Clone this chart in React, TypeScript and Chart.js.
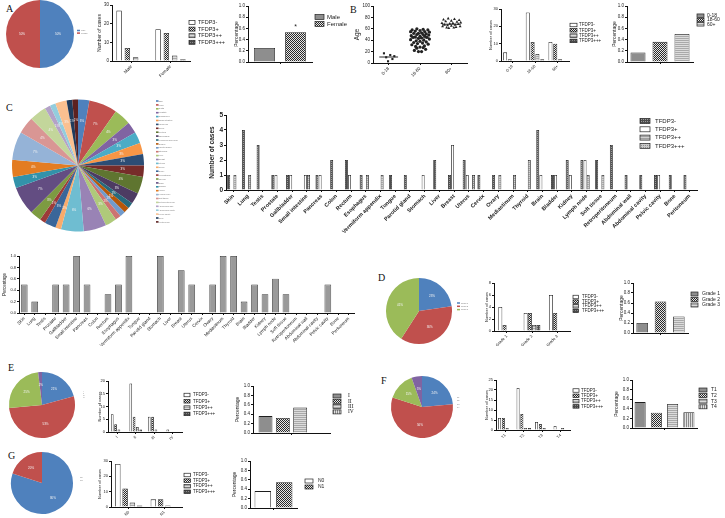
import React, { useEffect, useRef } from 'react';
import { Chart, registerables } from 'chart.js';
Chart.register(...registerables);

const FONT = "'Liberation Sans', Arial, sans-serif";
const SERIF = "'Liberation Serif', 'Times New Roman', serif";

// ---------------- DATA ----------------
const tfdpSeries = ['TFDP3-', 'TFDP3+', 'TFDP3++', 'TFDP3+++'];

// A: sex
const sexLabels = ['Male', 'Female'];
const sexNeg = [27, 17];
const sexPos1 = [7, 15];
const sexPos2 = [2, 3];
const sexPos3 = [0, 1];
const sexPie = [36, 36];
const sexPercent = [0.25, 0.53];

// B: age
const ageLabels = ['0-18', '18-60', '60+'];
const ageNeg = [5, 28, 11];
const agePos1 = [1, 11, 10];
const agePos2 = [0, 4, 1];
const agePos3 = [0, 1, 0];
const agePercent = [0.17, 0.36, 0.5];
const ageYoung = [17, 14, 12, 10, 7, 3];
const ageYoungJitter = [-0.15, 0.05, 0.18, -0.08, 0.12, -0.02];
const ageMid = [60, 59, 58, 58, 57, 56, 55, 55, 54, 53, 52, 52, 51, 50, 50, 49, 48, 47, 47, 46, 45, 45, 44, 43, 42, 41, 40, 39, 38, 37, 36, 35, 34, 33, 32, 30, 29, 28, 27, 26, 24, 22, 20, 20];
const ageMidJitter = [-0.1, 0.1, -0.25, 0.25, 0, -0.15, 0.15, -0.3, 0.3, 0.05, -0.05, -0.2, 0.2, 0.1, -0.1, 0.28, -0.28, 0, 0.15, -0.15, 0.22, -0.22, 0.05, -0.05, 0.3, -0.3, 0.12, -0.12, 0, 0.2, -0.2, 0.08, -0.08, 0.26, -0.26, 0.14, -0.14, 0, 0.1, -0.1, 0.18, -0.18, 0.05, -0.05];
const ageOld = [78, 77, 76, 75, 74, 73, 72, 71, 70, 70, 69, 68, 67, 67, 66, 65, 64, 64, 63, 62, 62, 61];
const ageOldJitter = [-0.1, 0.1, -0.25, 0.25, 0, -0.18, 0.18, 0.3, -0.3, 0.05, -0.05, 0.22, -0.22, 0.12, -0.12, 0, 0.28, -0.28, 0.15, -0.15, 0.08, -0.08];
const ageMeans = [10.5, 44, 68];

// C: organs
const organLabels = ['Skin', 'Lung', 'Testis', 'Prostate', 'Gallbladder', 'Small intestine', 'Pancreas', 'Colon', 'Rectum', 'Esophagus', 'Vermiform appendix', 'Tongue', 'Parotid gland', 'Stomach', 'Liver', 'Breast', 'Uterus', 'Cervix', 'Ovary', 'Mediastinum', 'Thyroid', 'Brain', 'Bladder', 'Kidney', 'Lymph node', 'Soft tissue', 'Retroperitoneum', 'Abdominal wall', 'Abdominal cavity', 'Pelvic cavity', 'Bone', 'Peritoneum'];
const organNeg = [1, 4, 3, 1, 1, 0, 1, 2, 2, 1, 0, 1, 1, 0, 2, 1, 2, 1, 1, 0, 0, 4, 1, 2, 2, 2, 3, 1, 1, 1, 1, 1];
const organPos1 = [0, 0, 0, 1, 1, 1, 1, 0, 1, 0, 0, 0, 0, 1, 0, 3, 1, 0, 0, 0, 0, 1, 1, 1, 2, 0, 0, 0, 0, 1, 0, 0];
const organPos2 = [1, 1, 0, 0, 0, 1, 0, 0, 0, 1, 1, 0, 0, 0, 0, 0, 0, 0, 1, 1, 2, 0, 0, 0, 1, 1, 0, 0, 0, 0, 0, 0];
const organPos3 = [0, 0, 0, 0, 0, 0, 0, 0, 0, 0, 0, 0, 0, 0, 0, 0, 1, 0, 0, 0, 0, 0, 0, 0, 0, 0, 0, 0, 0, 0, 0, 0];
const organPie = [2, 5, 3, 2, 2, 2, 2, 2, 3, 2, 1, 1, 1, 1, 2, 4, 4, 1, 2, 1, 2, 5, 2, 3, 5, 3, 3, 1, 1, 2, 1, 1];
const organPercent = [0.5, 0.2, 0, 0.5, 0.5, 1, 0.5, 0, 0.33, 0.5, 1, 0, 0, 1, 0, 0.75, 0.5, 0, 0.5, 1, 1, 0.2, 0.5, 0.33, 0.6, 0.33, 0, 0, 0, 0.5, 0, 0];

// D: grade
const gradeLabels = ['Grade 1', 'Grade 2', 'Grade 3'];
const gradeNeg = [4, 3, 6];
const gradePos1 = [1, 3, 3];
const gradePos2 = [0, 1, 0];
const gradePos3 = [0, 1, 0];
const gradePie = [5, 8, 9];
const gradePercent = [0.2, 0.63, 0.33];

// E: stage
const stageLabels = ['I', 'II', 'III', 'IV'];
const stageNeg = [7, 19, 6, 1];
const stagePos1 = [3, 6, 6, 0];
const stagePos2 = [1, 2, 1, 0];
const stagePos3 = [0, 1, 0, 0];
const stagePie = [11, 28, 13, 1];
const stagePercent = [0.36, 0.32, 0.54, 0];

// F: T
const tLabels = ['T1', 'T2', 'T3', 'T4'];
const tNeg = [6, 21, 4, 2];
const tPos1 = [6, 8, 3, 0];
const tPos2 = [1, 1, 1, 1];
const tPos3 = [0, 1, 0, 0];
const tPie = [13, 31, 8, 3];
const tPercent = [0.54, 0.32, 0.5, 0.33];

// G: N
const nLabels = ['N0', 'N1'];
const nNeg = [28, 5];
const nPos1 = [12, 5];
const nPos2 = [3, 1];
const nPos3 = [1, 0];
const nPie = [44, 11];
const nPercent = [0.36, 0.55];

const basePieColors = ['#4F81BD', '#C0504D', '#9BBB59', '#8064A2'];
const organPieColors = ['#4F81BD', '#C0504D', '#9BBB59', '#8064A2', '#4BACC6', '#F79646', '#2C4D75', '#772C2A', '#5F7530', '#4D3B62', '#276A7C', '#B65708', '#729ACA', '#CD7371', '#AFC97A', '#9983B5', '#6FBDD1', '#F9AB6B', '#3A6699', '#9C3B39', '#7D9B42', '#634D82', '#3292AA', '#E37C22', '#95B3D7', '#D99694', '#C3D69B', '#B3A2C7', '#93CDDD', '#FAC090', '#1F3B5C', '#5C2120'];

// ---------------- FILLS ----------------
function makeFill(kind: string): any {
  if (kind === 'white') return '#ffffff';
  if (kind === 'gray') return '#8e8e8e';
  if (kind === 'midgray') return '#9a9a9a';
  const c = document.createElement('canvas');
  const ctx = c.getContext('2d')!;
  const px = (col: string, x: number, y: number, w = 1, h = 1) => { ctx.fillStyle = col; ctx.fillRect(x, y, w, h); };
  if (kind === 'check') {
    c.width = 2; c.height = 2;
    px('#e6e6e6', 0, 0, 2, 2); px('#2a2a2a', 0, 0); px('#2a2a2a', 1, 1);
  } else if (kind === 'light') {
    c.width = 1; c.height = 2;
    px('#dcdcdc', 0, 0, 1, 2); px('#a9a9a9', 0, 0);
  } else if (kind === 'dark') {
    c.width = 2; c.height = 2;
    px('#4a4a4a', 0, 0, 2, 2); px('#8a8a8a', 0, 0);
  } else if (kind === 'vstripe') {
    c.width = 2; c.height = 1;
    px('#e2e2e2', 0, 0, 2, 1); px('#8a8a8a', 0, 0);
  } else if (kind === 'darkdots') {
    c.width = 2; c.height = 2;
    px('#4e4e4e', 0, 0, 2, 2); px('#9c9c9c', 0, 0);
  } else if (kind === 'grayline') {
    c.width = 1; c.height = 2;
    px('#a0a0a0', 0, 0, 1, 2); px('#d0d0d0', 0, 0);
  } else if (kind === 'lightdots') {
    c.width = 2; c.height = 2;
    px('#c9c9c9', 0, 0, 2, 2); px('#8f8f8f', 0, 0);
  } else {
    c.width = 1; c.height = 1; px('#999', 0, 0);
  }
  return ctx.createPattern(c, 'repeat');
}

type Box = [number, number, number, number];
type LegendSpec = { x: number; y: number; gap: number; bw: number; bh: number; size: number; tx: number; family?: string; color?: string; stroke?: boolean; weight?: string };

function legendPlugin(items: { label: string; fill: any }[], L: LegendSpec, ox: number, oy: number) {
  return {
    id: 'boxLegend',
    afterDraw(chart: any) {
      const ctx = chart.ctx;
      ctx.save();
      items.forEach((it, i) => {
        const cy = L.y - oy + i * L.gap;
        const x = L.x - ox;
        if (L.bw > 0) {
          ctx.fillStyle = it.fill;
          ctx.fillRect(x, cy - L.bh / 2, L.bw, L.bh);
          if (L.stroke !== false) {
            ctx.strokeStyle = '#222';
            ctx.lineWidth = 0.7;
            ctx.strokeRect(x, cy - L.bh / 2, L.bw, L.bh);
          }
        }
        ctx.fillStyle = L.color || '#222';
        ctx.font = `${L.weight || 'normal'} ${L.size}px ${L.family || FONT}`;
        ctx.textBaseline = 'middle';
        ctx.textAlign = 'left';
        ctx.fillText(it.label, L.tx - ox, cy);
      });
      ctx.restore();
    },
  };
}

function axisCommon(size: number, bold: boolean) {
  return {
    grid: { display: true, drawOnChartArea: false, drawTicks: true, tickLength: 2, offset: false, color: '#111', lineWidth: 1 },
    border: { display: true, color: '#111', width: 1 },
    font: { size, family: FONT, weight: bold ? 'bold' : 'normal' },
  };
}

interface DS { label: string; data: number[]; fill: string }
interface BarProps {
  box: Box;
  plot: [number, number, number, number];
  titleX: number;
  yTitle: string;
  titleSize: number;
  titleBold?: boolean;
  labels: string[];
  datasets: DS[];
  yMax: number;
  yStep: number;
  decimals?: number;
  tickSize: number;
  xTickSize?: number;
  bold?: boolean;
  xBold?: boolean;
  cat: number;
  bar: number;
  legend?: LegendSpec;
  star?: { ds: number; idx: number; text: string };
  border?: string;
}

function BarPanel(p: BarProps) {
  const ref = useRef<HTMLCanvasElement>(null);
  useEffect(() => {
    const [bx, by, bw, bh] = p.box;
    const [pl, pt, pr, pb] = p.plot;
    const lh = p.titleSize * 1.2;
    const padLeft = p.titleX - bx - lh / 2;
    const yWidth = pl - bx - padLeft;
    const padRight = bx + bw - pr;
    const padTop = pt - by;
    const xHeight = by + bh - pb;
    const fills = p.datasets.map((d) => makeFill(d.fill));
    const yc = axisCommon(p.tickSize, !!p.bold);
    const xc = axisCommon(p.xTickSize || p.tickSize, !!p.xBold);
    const plugins: any[] = [];
    if (p.legend) plugins.push(legendPlugin(p.datasets.map((d, i) => ({ label: d.label, fill: fills[i] })), p.legend, bx, by));
    if (p.star) {
      const st = p.star;
      plugins.push({
        id: 'star',
        afterDatasetsDraw(chart: any) {
          const el = chart.getDatasetMeta(st.ds).data[st.idx];
          const ctx = chart.ctx;
          ctx.save();
          ctx.fillStyle = '#222';
          ctx.font = `7px ${FONT}`;
          ctx.textAlign = 'center';
          ctx.textBaseline = 'bottom';
          ctx.fillText(st.text, el.x, el.y - 2);
          ctx.restore();
        },
      });
    }
    const chart = new Chart(ref.current!, {
      type: 'bar',
      data: {
        labels: p.labels,
        datasets: p.datasets.map((d, i) => ({
          label: d.label,
          data: d.data,
          backgroundColor: fills[i],
          borderColor: p.border || '#1e1e1e',
          borderWidth: 0.8,
          categoryPercentage: p.cat,
          barPercentage: p.bar,
        })),
      },
      options: {
        animation: false,
        responsive: false,
        maintainAspectRatio: false,
        events: [],
        layout: { padding: { left: padLeft, top: padTop, right: padRight, bottom: 0 }, autoPadding: false },
        plugins: { legend: { display: false }, tooltip: { enabled: false } },
        scales: {
          x: {
            offset: true,
            grid: xc.grid,
            border: xc.border,
            ticks: { autoSkip: false, maxRotation: 45, minRotation: 45, padding: 1, font: xc.font, color: '#222' },
            afterFit: (s: any) => { s.height = xHeight; },
          },
          y: {
            min: 0,
            max: p.yMax,
            grid: yc.grid,
            border: yc.border,
            ticks: { stepSize: p.yStep, padding: 1, font: yc.font, color: '#222', callback: (v: any) => Number(v).toFixed(p.decimals || 0) },
            title: { display: true, text: p.yTitle, padding: 0, color: '#1a1a1a', font: { size: p.titleSize, family: FONT, weight: p.titleBold ? 'bold' : 'normal' } },
            afterFit: (s: any) => { s.width = yWidth; },
          },
        },
      } as any,
      plugins,
    });
    return () => chart.destroy();
  }, []);
  return <canvas ref={ref} width={p.box[2]} height={p.box[3]} style={{ position: 'absolute', left: p.box[0], top: p.box[1], width: p.box[2], height: p.box[3] }} />;
}

interface PieProps {
  box: Box;
  center: [number, number];
  r: number;
  values: number[];
  colors: string[];
  labels: string[];
  legend: LegendSpec;
  labelSize: number;
  labelDist: number;
}

function PiePanel(p: PieProps) {
  const ref = useRef<HTMLCanvasElement>(null);
  useEffect(() => {
    const [bx, by, bw, bh] = p.box;
    const [cx, cy] = p.center;
    const total = p.values.reduce((a, b) => a + b, 0);
    const items = p.labels.map((l, i) => ({ label: l, fill: p.colors[i % p.colors.length] }));
    const chart = new Chart(ref.current!, {
      type: 'pie',
      data: {
        labels: p.labels,
        datasets: [{ data: p.values, backgroundColor: p.values.map((_, i) => p.colors[i % p.colors.length]), borderWidth: 0, hoverOffset: 0 }],
      },
      options: {
        animation: false,
        responsive: false,
        maintainAspectRatio: false,
        events: [],
        layout: { padding: { left: cx - p.r - bx, top: cy - p.r - by, right: bx + bw - (cx + p.r), bottom: by + bh - (cy + p.r) } },
        plugins: { legend: { display: false }, tooltip: { enabled: false } },
      } as any,
      plugins: [
        legendPlugin(items, { ...p.legend, stroke: false, color: '#777' }, bx, by),
        {
          id: 'pct',
          afterDatasetsDraw(chart: any) {
            const ctx = chart.ctx;
            ctx.save();
            ctx.fillStyle = '#f4f4f4';
            ctx.font = `${p.labelSize}px ${FONT}`;
            ctx.textAlign = 'center';
            ctx.textBaseline = 'middle';
            chart.getDatasetMeta(0).data.forEach((arc: any, i: number) => {
              const { x, y, startAngle, endAngle, outerRadius } = arc.getProps(['x', 'y', 'startAngle', 'endAngle', 'outerRadius'], true);
              const m = (startAngle + endAngle) / 2;
              const rr = outerRadius * p.labelDist;
              ctx.fillText(`${Math.round((p.values[i] / total) * 100)}%`, x + Math.cos(m) * rr, y + Math.sin(m) * rr);
            });
            ctx.restore();
          },
        },
      ],
    });
    return () => chart.destroy();
  }, []);
  return <canvas ref={ref} width={p.box[2]} height={p.box[3]} style={{ position: 'absolute', left: p.box[0], top: p.box[1], width: p.box[2], height: p.box[3] }} />;
}

function AgeScatter() {
  const ref = useRef<HTMLCanvasElement>(null);
  const box: Box = [345, 0, 125, 95];
  const plot = [373, 6, 467, 63];
  const titleX = 357;
  const titleSize = 6.5;
  useEffect(() => {
    const [bx, by, bw, bh] = box;
    const [pl, pt, pr, pb] = plot;
    const lh = titleSize * 1.2;
    const padLeft = titleX - bx - lh / 2;
    const yWidth = pl - bx - padLeft;
    const ac = axisCommon(4.5, false);
    const pts = (vals: number[], jit: number[], g: number) => vals.map((v, i) => ({ x: g + jit[i], y: v }));
    const meanLine = (g: number) => ({ type: 'line', data: [{ x: g - 0.3, y: ageMeans[g] }, { x: g + 0.3, y: ageMeans[g] }], borderColor: '#111', borderWidth: 0.9, pointRadius: 0 });
    const chart = new Chart(ref.current!, {
      type: 'scatter',
      data: {
        datasets: [
          { data: pts(ageYoung, ageYoungJitter, 0), pointStyle: 'rect', pointRadius: 1.5, backgroundColor: '#222', borderColor: '#222', borderWidth: 0 },
          { data: pts(ageMid, ageMidJitter, 1), pointStyle: 'circle', pointRadius: 1.6, backgroundColor: '#222', borderColor: '#222', borderWidth: 0 },
          { data: pts(ageOld, ageOldJitter, 2), pointStyle: 'triangle', pointRadius: 1.7, backgroundColor: '#222', borderColor: '#222', borderWidth: 0 },
          meanLine(0) as any,
          meanLine(1) as any,
          meanLine(2) as any,
        ],
      },
      options: {
        animation: false,
        responsive: false,
        maintainAspectRatio: false,
        events: [],
        layout: { padding: { left: padLeft, top: pt - by, right: bx + bw - pr, bottom: 0 }, autoPadding: false },
        plugins: { legend: { display: false }, tooltip: { enabled: false } },
        scales: {
          x: {
            type: 'linear',
            min: -0.5,
            max: 2.5,
            grid: ac.grid,
            border: ac.border,
            afterBuildTicks: (s: any) => { s.ticks = [0, 1, 2].map((v) => ({ value: v })); },
            ticks: { autoSkip: false, maxRotation: 45, minRotation: 45, padding: 1, font: ac.font, color: '#222', callback: (v: any) => ageLabels[v] ?? '' },
            afterFit: (s: any) => { s.height = by + bh - pb; },
          },
          y: {
            min: 0,
            max: 100,
            grid: ac.grid,
            border: ac.border,
            ticks: { stepSize: 20, padding: 1, font: ac.font, color: '#222' },
            title: { display: true, text: 'Age', padding: 0, color: '#1a1a1a', font: { size: titleSize, family: FONT } },
            afterFit: (s: any) => { s.width = yWidth; },
          },
        },
      } as any,
    });
    return () => chart.destroy();
  }, []);
  return <canvas ref={ref} width={box[2]} height={box[3]} style={{ position: 'absolute', left: box[0], top: box[1], width: box[2], height: box[3] }} />;
}

const tfdpFills = ['white', 'check', 'light', 'dark'];
const mk = (vals: number[][], fills: string[] = tfdpFills): DS[] => vals.map((v, i) => ({ label: tfdpSeries[i], data: v, fill: fills[i] }));
const pctDS = (labels: string[], vals: number[], fills: string[]): DS[] => labels.map((l, i) => ({ label: l, data: [vals[i]], fill: fills[i] }));

function Letter({ t, x, y }: { t: string; x: number; y: number }) {
  return <div style={{ position: 'absolute', left: x, top: y, font: `10px ${SERIF}`, lineHeight: '10px', color: '#111' }}>{t}</div>;
}

export default function App() {
  const smallLegend = (x: number, y: number, gap: number, bw: number, bh: number, size: number, tx: number, family?: string): LegendSpec => ({ x, y, gap, bw, bh, size, tx, family });
  return (
    <div style={{ position: 'fixed', left: 0, top: 0, width: 725, height: 518, background: '#fff', overflow: 'hidden' }}>
      <Letter t="A" x={6} y={4} />
      <Letter t="B" x={350} y={5} />
      <Letter t="C" x={6} y={103} />
      <Letter t="D" x={378} y={273} />
      <Letter t="E" x={8} y={363} />
      <Letter t="F" x={381} y={376} />
      <Letter t="G" x={8} y={451} />

      {/* A */}
      <PiePanel box={[4, 0, 90, 70]} center={[40, 34]} r={34} values={sexPie} colors={basePieColors} labels={sexLabels}
        legend={smallLegend(77, 30.5, 2.6, 3, 1.5, 2, 81)} labelSize={3} labelDist={0.53} />
      <BarPanel box={[92, 0, 135, 80]} plot={[112, 5, 190, 61]} titleX={100} yTitle="Number of cases" titleSize={5}
        labels={sexLabels} datasets={mk([sexNeg, sexPos1, sexPos2, sexPos3])} yMax={30} yStep={10} tickSize={4.5}
        cat={0.85} bar={0.66} legend={smallLegend(189, 22.5, 6.6, 6, 4, 5.5, 198)} />
      <BarPanel box={[228, 0, 122, 80]} plot={[248, 6, 312, 62]} titleX={237} yTitle="Percentage" titleSize={5}
        labels={['']} datasets={pctDS(sexLabels, sexPercent, ['gray', 'check'])} yMax={1} yStep={0.2} decimals={1} tickSize={4.5}
        cat={0.97} bar={0.68} legend={smallLegend(315, 17, 7, 9, 5, 6, 327)} star={{ ds: 1, idx: 0, text: '*' }} />

      {/* B */}
      <AgeScatter />
      <BarPanel box={[480, 0, 130, 95]} plot={[501, 9, 569, 61]} titleX={491} yTitle="Number of cases" titleSize={4}
        labels={ageLabels} datasets={mk([ageNeg, agePos1, agePos2, agePos3])} yMax={30} yStep={10} tickSize={4}
        cat={0.85} bar={0.83} legend={smallLegend(570, 25, 5.3, 7, 3.5, 4.5, 579)} />
      <BarPanel box={[605, 0, 120, 95]} plot={[627, 6, 693, 62]} titleX={615} yTitle="Percentage" titleSize={5}
        labels={['']} datasets={pctDS(ageLabels, agePercent, ['gray', 'check', 'light'])} yMax={1} yStep={0.2} decimals={1} tickSize={4.5}
        cat={1} bar={0.68} legend={smallLegend(697, 15.7, 4.3, 7, 3.5, 5, 707)} />

      {/* C */}
      <PiePanel box={[5, 98, 190, 137]} center={[78, 165.5]} r={66} values={organPie} colors={organPieColors} labels={organLabels}
        legend={smallLegend(156, 101, 3.9, 2.5, 1.6, 2.2, 158.5)} labelSize={3} labelDist={0.68} />
      <BarPanel box={[195, 105, 515, 175]} plot={[226, 115, 697, 190]} titleX={212} yTitle="Number of cases" titleSize={6.5} titleBold
        labels={organLabels} datasets={mk([organNeg, organPos1, organPos2, organPos3], ['darkdots', 'white', 'grayline', 'lightdots'])}
        yMax={5} yStep={1} tickSize={6.5} bold xTickSize={5.5} xBold cat={0.85} bar={0.95}
        legend={smallLegend(640, 121, 8.3, 10, 5, 6, 655)} />
      <BarPanel box={[0, 250, 365, 100]} plot={[19, 256, 354, 313]} titleX={5} yTitle="Percentage" titleSize={4.5}
        labels={organLabels} datasets={[{ label: 'Percentage', data: organPercent, fill: 'midgray' }]} yMax={1} yStep={0.2} decimals={1}
        tickSize={4} xTickSize={4.5} cat={0.64} bar={1} border="#333" />

      {/* D */}
      <PiePanel box={[383, 275, 95, 72]} center={[419, 311]} r={33} values={gradePie} colors={basePieColors} labels={gradeLabels}
        legend={smallLegend(457, 303, 3.3, 3, 1.5, 2, 461)} labelSize={3} labelDist={0.6} />
      <BarPanel box={[475, 278, 135, 70]} plot={[494, 283, 570, 331]} titleX={487} yTitle="Number of cases" titleSize={4}
        labels={gradeLabels} datasets={mk([gradeNeg, gradePos1, gradePos2, gradePos3])} yMax={8} yStep={2} tickSize={4}
        cat={0.67} bar={0.95} legend={smallLegend(573, 297, 4.6, 5.5, 3.5, 4.5, 582)} />
      <BarPanel box={[610, 278, 115, 70]} plot={[633, 283, 688, 333]} titleX={622} yTitle="Percentage" titleSize={5}
        labels={['']} datasets={pctDS(gradeLabels, gradePercent, ['gray', 'check', 'light'])} yMax={1} yStep={0.2} decimals={1} tickSize={4.5}
        cat={1} bar={0.63} legend={smallLegend(691, 294, 5.5, 7, 4, 5, 702)} />

      {/* E */}
      <PiePanel box={[5, 370, 90, 72]} center={[42, 405]} r={33} values={stagePie} colors={basePieColors} labels={stageLabels}
        legend={smallLegend(83, 391, 2.3, 0, 0, 2, 83)} labelSize={3} labelDist={0.6} />
      <BarPanel box={[90, 375, 135, 75]} plot={[108, 381, 182, 432]} titleX={100} yTitle="Number of cases" titleSize={4}
        labels={stageLabels} datasets={mk([stageNeg, stagePos1, stagePos2, stagePos3])} yMax={20} yStep={5} tickSize={4}
        cat={0.72} bar={0.8} legend={smallLegend(184, 395, 6.3, 6, 3.5, 4.5, 193)} />
      <BarPanel box={[225, 375, 135, 75]} plot={[253, 386, 330, 433]} titleX={238} yTitle="Percentage" titleSize={5}
        labels={['']} datasets={pctDS(stageLabels, stagePercent, ['gray', 'check', 'light', 'vstripe'])} yMax={1} yStep={0.2} decimals={1} tickSize={4.5}
        cat={0.9} bar={0.8} legend={smallLegend(333, 396, 5.3, 8, 4, 5.5, 348, SERIF)} />

      {/* F */}
      <PiePanel box={[380, 372, 95, 72]} center={[422, 407]} r={31} values={tPie} colors={basePieColors} labels={tLabels}
        legend={smallLegend(457, 397, 3.6, 0, 0, 2, 457)} labelSize={3} labelDist={0.6} />
      <BarPanel box={[475, 375, 135, 75]} plot={[496, 380, 570, 430]} titleX={487} yTitle="Number of cases" titleSize={4}
        labels={tLabels} datasets={mk([tNeg, tPos1, tPos2, tPos3])} yMax={25} yStep={5} tickSize={4}
        cat={0.82} bar={0.8} legend={smallLegend(573, 390.5, 5.3, 6, 3.5, 4.5, 581)} />
      <BarPanel box={[610, 372, 115, 75]} plot={[632, 380, 697, 428]} titleX={617} yTitle="Percentage" titleSize={5}
        labels={['']} datasets={pctDS(tLabels, tPercent, ['gray', 'check', 'light', 'vstripe'])} yMax={1} yStep={0.2} decimals={1} tickSize={4.5}
        cat={1} bar={0.68} legend={smallLegend(699, 390, 5.6, 8, 4, 5, 711)} />

      {/* G */}
      <PiePanel box={[5, 450, 90, 68]} center={[42, 483]} r={31} values={nPie} colors={basePieColors} labels={nLabels}
        legend={smallLegend(80, 477, 3, 0, 0, 2, 80)} labelSize={3} labelDist={0.6} />
      <BarPanel box={[90, 455, 135, 63]} plot={[111, 461, 182, 507]} titleX={100} yTitle="Number of cases" titleSize={4}
        labels={nLabels} datasets={mk([nNeg, nPos1, nPos2, nPos3])} yMax={30} yStep={10} tickSize={4}
        cat={0.82} bar={0.75} legend={smallLegend(184, 475, 5.6, 6.5, 3.5, 4.5, 193)} />
      <BarPanel box={[225, 455, 115, 63]} plot={[250, 461, 297, 508]} titleX={235} yTitle="Percentage" titleSize={5}
        labels={['']} datasets={pctDS(nLabels, nPercent, ['white', 'check'])} yMax={1} yStep={0.2} decimals={1} tickSize={4.5}
        cat={0.91} bar={0.77} legend={smallLegend(305, 481, 6, 8, 4, 5, 318)} />
    </div>
  );
}
